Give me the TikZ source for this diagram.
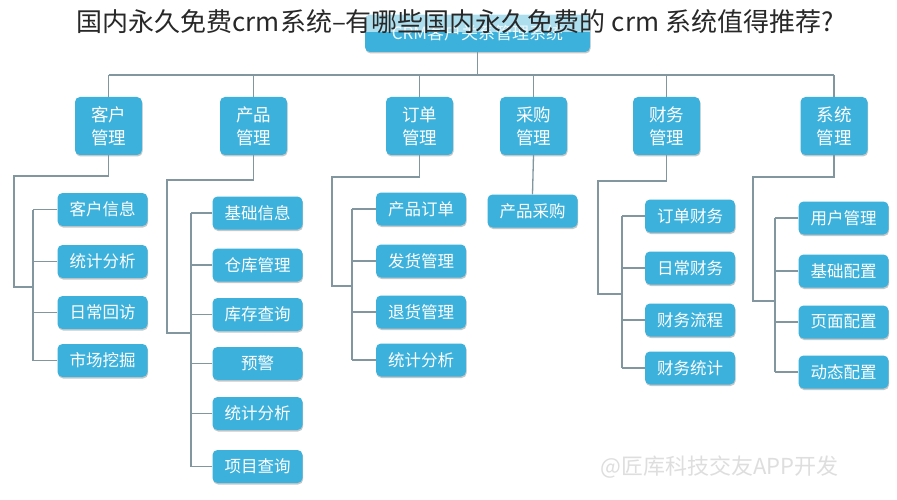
\documentclass[tikz,border=0pt]{standalone}
\usepackage{fontspec}
\setmainfont{Noto Sans CJK SC}
\usetikzlibrary{shadows}
\definecolor{boxblue}{RGB}{60,177,220}
\definecolor{linegray}{RGB}{130,150,160}
\definecolor{titlegray}{RGB}{40,40,40}
\definecolor{paleblue}{RGB}{172,222,238}
\begin{document}
\begin{tikzpicture}[x=1pt,y=-1pt,
 box/.style={fill=boxblue, rounded corners=5pt, text=white, inner sep=0pt, align=center,
   drop shadow={shadow xshift=0.6pt, shadow yshift=-1.5pt, fill=black, opacity=0.22}},
 cat/.style={box, minimum width=67pt, minimum height=58pt, font=\fontsize{17.5}{23}\selectfont},
 sub/.style={box, minimum width=90pt, minimum height=33pt, font=\fontsize{16.5}{20}\selectfont},
 link/.style={draw=linegray, line width=1.3pt}]
\useasboundingbox (0,0) rectangle (897,500);
\fill[white] (0,0) rectangle (897,500);

% top box
\node[box, minimum width=225pt, minimum height=37pt] (top) at (477.5,33.5) {};
\begin{scope}
  \clip[rounded corners=5pt] (top.north west) rectangle (top.south east);
  \fill[paleblue] (top.north west) rectangle ([yshift=1.5pt]top.east);
\end{scope}
\node[text=white!92!boxblue, font=\fontsize{17}{20}\selectfont, inner sep=0pt] (toptext) at (top.center) {CRM客户关系管理系统};

% categories
\node[cat] (c1) at (108.5,126) {客户\\管理};
\node[cat] (c2) at (253.5,126) {产品\\管理};
\node[cat] (c3) at (419.5,126) {订单\\管理};
\node[cat] (c4) at (533.5,126) {采购\\管理};
\node[cat] (c5) at (666.5,126) {财务\\管理};
\node[cat] (c6) at (834,126) {系统\\管理};

% subs
\node[sub] (s11) at (102.5,209.5) {客户信息};
\node[sub] (s12) at (102.5,261.5) {统计分析};
\node[sub] (s13) at (102.5,312.5) {日常回访};
\node[sub] (s14) at (102.5,360.5) {市场挖掘};

\node[sub] (s21) at (257.5,213) {基础信息};
\node[sub] (s22) at (257.5,265) {仓库管理};
\node[sub] (s23) at (257.5,314.5) {库存查询};
\node[sub] (s24) at (257.5,363.5) {预警};
\node[sub] (s25) at (257.5,413.5) {统计分析};
\node[sub] (s26) at (257.5,466.5) {项目查询};

\node[sub] (s31) at (421,209) {产品订单};
\node[sub] (s32) at (421,261) {发货管理};
\node[sub] (s33) at (421,312) {退货管理};
\node[sub] (s34) at (421,360) {统计分析};

\node[sub] (s41) at (532.5,211) {产品采购};

\node[sub] (s51) at (690,216) {订单财务};
\node[sub] (s52) at (690,268) {日常财务};
\node[sub] (s53) at (690,320) {财务流程};
\node[sub] (s54) at (690,368) {财务统计};

\node[sub] (s61) at (843.5,218) {用户管理};
\node[sub] (s62) at (843.5,271) {基础配置};
\node[sub] (s63) at (843.5,322) {页面配置};
\node[sub] (s64) at (843.5,372) {动态配置};

% bus
\coordinate (bus) at (0,75);
\draw[link] (top.south) -- (top.south |- bus);
\draw[link] (c1.north |- bus) -- (c6.north |- bus);
\foreach \c in {c1,c2,c3,c4,c5,c6} \draw[link] (\c.north) -- (\c.north |- bus);

% column connectors
\coordinate (o1) at (14,176);  \coordinate (j1) at (33,287);
\coordinate (o2) at (167,180); \coordinate (j2) at (191,333);
\coordinate (o3) at (332,177); \coordinate (j3) at (352,286);
\coordinate (o5) at (598,181); \coordinate (j5) at (622,294);
\coordinate (o6) at (753,177); \coordinate (j6) at (775,301);

\draw[link] (c1.south) |- (o1) |- (j1);
\draw[link] (s11.west -| j1) -- (s14.west -| j1);
\foreach \n in {s11,s12,s13,s14} \draw[link] (\n.west) -- (\n.west -| j1);

\draw[link] (c2.south) |- (o2) |- (j2);
\draw[link] (s21.west -| j2) -- (s26.west -| j2);
\foreach \n in {s21,s22,s23,s24,s25,s26} \draw[link] (\n.west) -- (\n.west -| j2);

\draw[link] (c3.south) |- (o3) |- (j3);
\draw[link] (s31.west -| j3) -- (s34.west -| j3);
\foreach \n in {s31,s32,s33,s34} \draw[link] (\n.west) -- (\n.west -| j3);

\draw[link] (c4.south) -- (s41.north);

\draw[link] (c5.south) |- (o5) |- (j5);
\draw[link] (s51.west -| j5) -- (s54.west -| j5);
\foreach \n in {s51,s52,s53,s54} \draw[link] (\n.west) -- (\n.west -| j5);

\draw[link] (c6.south) |- (o6) |- (j6);
\draw[link] (s61.west -| j6) -- (s64.west -| j6);
\foreach \n in {s61,s62,s63,s64} \draw[link] (\n.west) -- (\n.west -| j6);

% title
\node[text=titlegray, font=\fontsize{26}{30}\selectfont, inner sep=0pt] (title) at (455,22)
  {国内永久免费crm系统–有哪些国内永久免费的 crm 系统值得推荐?};

% watermark
\node[text=black!13, font=\fontsize{22}{26}\selectfont, inner sep=0pt, anchor=west] (wm) at (600,467)
  {@匠库科技交友APP开发};
\end{tikzpicture}
\end{document}
